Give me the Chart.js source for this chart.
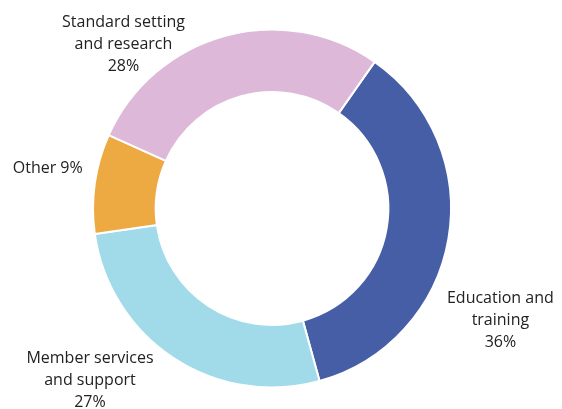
<!DOCTYPE html>
<html>
<head>
<meta charset="utf-8">
<script src="https://cdn.jsdelivr.net/npm/chart.js@4.4.1/dist/chart.umd.min.js"></script>
<style>
  html, body { margin: 0; padding: 0; background: #fff; }
  #wrap { width: 562px; height: 409px; position: relative; }
</style>
</head>
<body>
<div id="wrap"><canvas id="myChart"></canvas></div>
<script>
// data
var categories = ['Education and training', 'Member services and support', 'Other', 'Standard setting and research'];
var shares = [36, 27, 9, 28];
var sliceColors = ['#465EA6', '#A1DBEA', '#EDAA43', '#DEB8D8'];
// label text lines (percentage appended from shares)
var labelLines = [
	['Education and', 'training'],
	['Member services', 'and support'],
	['Other'],
	['Standard setting', 'and research']
];
// where each label sits relative to its slice's outer midpoint
var labelOffsets = [[52, 81], [-84, 22], [-47, -15], [-101, 9]];

var outsideLabels = {
	id: 'outsideLabels',
	afterDraw: function(chart) {
		var ctx = chart.ctx;
		var arcs = chart.getDatasetMeta(0).data;
		ctx.save();
		ctx.font = '16px "Open Sans", sans-serif';
		ctx.fillStyle = '#222222';
		ctx.textAlign = 'center';
		ctx.textBaseline = 'middle';
		arcs.forEach(function(arc, i) {
			var p = arc.getProps(['x', 'y', 'startAngle', 'endAngle', 'outerRadius'], true);
			var mid = (p.startAngle + p.endAngle) / 2;
			var ax = p.x + Math.cos(mid) * p.outerRadius + labelOffsets[i][0];
			var ay = p.y + Math.sin(mid) * p.outerRadius + labelOffsets[i][1];
			var lines = labelLines[i].slice();
			if (lines.length == 1) {
				lines[0] = lines[0] + ' ' + shares[i] + '%';
			} else {
				lines.push(shares[i] + '%');
			}
			var lh = 22;
			var top = ay - (lines.length - 1) * lh / 2;
			lines.forEach(function(t, k) {
				ctx.fillText(t, ax, top + k * lh);
			});
		});
		ctx.restore();
	}
};

var ctx = document.getElementById('myChart').getContext('2d');
var myChart = new Chart(ctx, {
	type: 'doughnut',
	data: {
		labels: categories,
		datasets: [{
			data: shares,
			backgroundColor: sliceColors,
			borderColor: '#ffffff',
			borderWidth: 2
		}]
	},
	options: {
		responsive: true,
		maintainAspectRatio: false,
		animation: false,
		rotation: 35,
		cutout: '65%',
		layout: { padding: { left: 92, right: 110, top: 28, bottom: 20 } },
		plugins: {
			legend: { display: false },
			tooltip: { enabled: false }
		}
	},
	plugins: [outsideLabels]
});
</script>
</body>
</html>
